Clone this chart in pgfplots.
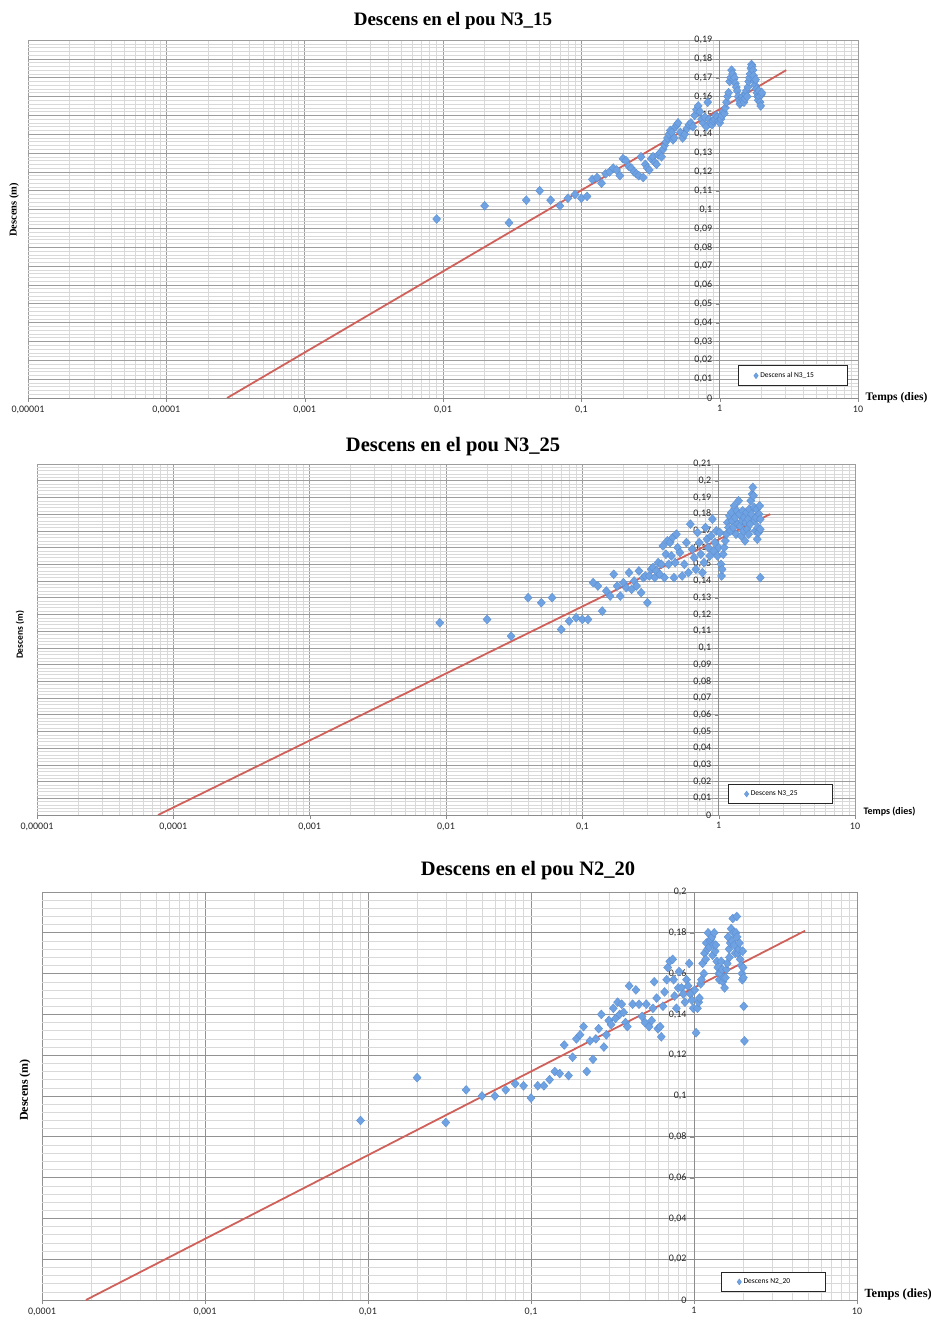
\documentclass[border=0pt]{standalone}
\usepackage{fontspec}
\setmainfont{Carlito}
\newfontfamily\tnr{Liberation Serif}
\usepackage{pgfplots}
\pgfplotsset{compat=1.18}
\definecolor{gmaj}{HTML}{8C8C8C}
\definecolor{gmin}{HTML}{D9D9D9}
\definecolor{ptfill}{HTML}{6EA2E2}
\definecolor{ptdraw}{HTML}{5A8DD0}
\definecolor{trend}{HTML}{D0605A}

\pgfplotsset{
  excel/.style={
    scale only axis,
    ymin=0,
    axis x line=bottom,
    axis y line=middle,
    axis line style={draw=gmaj,-},
    hide obscured x ticks=false,
    hide obscured y ticks=false,
    grid=both,
    major grid style={draw=gmaj!85,line width=0.6pt},
    minor grid style={draw=gmin,line width=0.5pt},
    tick align=outside,
    major tick length=4pt,
    minor tick length=0pt,
    tick style={draw=gmaj},
    tick label style={font=\fontsize{10}{11}\selectfont,text=black!85},
    yticklabel={\pgfmathprintnumber[fixed,precision=2,use comma,assume math mode=true]{\tick}},
    yticklabel style={anchor=east},
    legend cell align=left,
    legend image code/.code={
      \path[draw=none,fill=none] (0pt,-3pt) rectangle (19pt,3pt);
      \draw[mark=diamond*,mark size=3pt,mark options={fill=ptfill,draw=ptdraw,line width=0.3pt}]
        plot coordinates {(17pt,0pt)};},
    legend style={draw=black!85,fill=white,line width=0.8pt,
      font=\fontsize{7.5}{8}\selectfont,anchor=south west,inner xsep=1pt,inner ysep=4.5pt},
  },
  pts/.style={only marks,mark=diamond*,mark size=4.5pt,
    mark options={xscale=1.2,fill=ptfill,draw=ptdraw,line width=0.3pt}},
  trendline/.style={draw=trend,line width=1.8pt,no marks,forget plot},
}

\begin{document}
\begin{tikzpicture}
\useasboundingbox (0pt,0pt) rectangle (930pt,1320pt);

% ---------- Panel 1 : N3_15 ----------
\begin{semilogxaxis}[excel,
  at={(28pt,922pt)},anchor=south west,
  width=830pt,height=358pt,
  xmin=1e-5,xmax=10,ymax=0.19,
  xtick={1e-5,1e-4,1e-3,1e-2,1e-1,1,10},
  minor xtick={2e-5,3e-5,4e-5,5e-5,6e-5,7e-5,8e-5,9e-5,
    2e-4,3e-4,4e-4,5e-4,6e-4,7e-4,8e-4,9e-4,
    0.002,0.003,0.004,0.005,0.006,0.007,0.008,0.009,
    0.02,0.03,0.04,0.05,0.06,0.07,0.08,0.09,
    0.2,0.3,0.4,0.5,0.6,0.7,0.8,0.9,2,3,4,5,6,7,8,9},
  xticklabels={{0,00001},{0,0001},{0,001},{0,01},{0,1},1,10},
  ytick distance=0.01,minor y tick num=4,
  legend style={at={(0.855,0.0335)}},
]
\addplot[pts] table {
0.009 0.095
0.02 0.102
0.03 0.093
0.04 0.105
0.05 0.110
0.06 0.105
0.07 0.102
0.08 0.106
0.09 0.108
0.10 0.106
0.11 0.107
0.12 0.116
0.13 0.117
0.14 0.114
0.15 0.119
0.16 0.120
0.17 0.122
0.18 0.121
0.19 0.118
0.20 0.127
0.21 0.126
0.22 0.123
0.23 0.122
0.24 0.120
0.25 0.119
0.26 0.118
0.27 0.128
0.28 0.117
0.29 0.124
0.30 0.122
0.31 0.121
0.32 0.127
0.33 0.128
0.34 0.125
0.35 0.124
0.36 0.129
0.37 0.130
0.38 0.128
0.39 0.132
0.40 0.134
0.41 0.136
0.42 0.138
0.43 0.140
0.44 0.142
0.45 0.141
0.46 0.137
0.47 0.138
0.48 0.144
0.49 0.145
0.50 0.146
0.52 0.141
0.54 0.138
0.56 0.140
0.58 0.143
0.60 0.145
0.62 0.146
0.64 0.144
0.66 0.150
0.68 0.153
0.70 0.155
0.72 0.152
0.74 0.148
0.76 0.146
0.78 0.149
0.80 0.144
0.82 0.157
0.84 0.148
0.86 0.146
0.88 0.145
0.90 0.147
0.92 0.148
0.94 0.150
0.96 0.149
0.98 0.147
1.00 0.146
1.02 0.148
1.04 0.150
1.06 0.152
1.08 0.151
1.10 0.154
1.12 0.157
1.14 0.160
1.16 0.162
1.18 0.168
1.20 0.170
1.22 0.174
1.24 0.172
1.26 0.169
1.28 0.170
1.30 0.167
1.32 0.165
1.34 0.163
1.36 0.160
1.38 0.158
1.40 0.156
1.42 0.157
1.44 0.159
1.46 0.160
1.48 0.158
1.50 0.157
1.52 0.159
1.54 0.161
1.56 0.163
1.58 0.160
1.60 0.165
1.62 0.168
1.64 0.170
1.66 0.172
1.68 0.175
1.70 0.177
1.72 0.176
1.74 0.174
1.76 0.171
1.78 0.168
1.80 0.166
1.82 0.169
1.84 0.164
1.86 0.162
1.88 0.160
1.90 0.158
1.92 0.163
1.94 0.160
1.96 0.157
1.98 0.155
2.00 0.161
2.02 0.162
};
\addlegendentry{Descens al N3\_15\hspace*{30pt}}
\addplot[trendline] coordinates {(2.75e-4,0) (3.03,0.174)};
\end{semilogxaxis}

% ---------- Panel 2 : N3_25 ----------
\begin{semilogxaxis}[excel,
  at={(37pt,505pt)},anchor=south west,
  width=818pt,height=351pt,
  xmin=1e-5,xmax=10,ymax=0.21,
  xtick={1e-5,1e-4,1e-3,1e-2,1e-1,1,10},
  minor xtick={2e-5,3e-5,4e-5,5e-5,6e-5,7e-5,8e-5,9e-5,
    2e-4,3e-4,4e-4,5e-4,6e-4,7e-4,8e-4,9e-4,
    0.002,0.003,0.004,0.005,0.006,0.007,0.008,0.009,
    0.02,0.03,0.04,0.05,0.06,0.07,0.08,0.09,
    0.2,0.3,0.4,0.5,0.6,0.7,0.8,0.9,2,3,4,5,6,7,8,9},
  xticklabels={{0,00001},{0,0001},{0,001},{0,01},{0,1},1,10},
  ytick distance=0.01,minor y tick num=4,
  legend style={at={(0.845,0.031)}},
]
\addplot[pts] table {
0.009 0.115
0.02 0.117
0.03 0.107
0.04 0.130
0.05 0.127
0.06 0.130
0.07 0.111
0.08 0.116
0.09 0.118
0.10 0.117
0.11 0.117
0.12 0.139
0.13 0.137
0.14 0.122
0.15 0.134
0.16 0.131
0.17 0.144
0.18 0.137
0.19 0.131
0.20 0.139
0.21 0.136
0.22 0.145
0.23 0.135
0.24 0.140
0.25 0.137
0.26 0.146
0.27 0.133
0.28 0.142
0.29 0.143
0.30 0.127
0.31 0.143
0.32 0.147
0.33 0.148
0.34 0.142
0.35 0.146
0.36 0.151
0.37 0.144
0.38 0.150
0.39 0.161
0.40 0.142
0.41 0.156
0.42 0.164
0.43 0.150
0.44 0.163
0.45 0.155
0.46 0.166
0.47 0.142
0.48 0.151
0.49 0.168
0.50 0.160
0.52 0.157
0.54 0.143
0.56 0.150
0.58 0.163
0.60 0.145
0.62 0.174
0.64 0.159
0.66 0.154
0.68 0.147
0.70 0.169
0.72 0.163
0.74 0.156
0.76 0.145
0.78 0.151
0.80 0.172
0.82 0.165
0.84 0.160
0.86 0.155
0.88 0.167
0.90 0.177
0.92 0.158
0.94 0.163
0.96 0.170
0.98 0.155
1.00 0.160
1.02 0.169
1.04 0.150
1.05 0.143
1.06 0.147
1.08 0.156
1.10 0.160
1.12 0.164
1.14 0.168
1.16 0.175
1.18 0.172
1.20 0.179
1.22 0.170
1.24 0.181
1.26 0.176
1.28 0.172
1.30 0.185
1.32 0.178
1.34 0.168
1.36 0.182
1.38 0.174
1.40 0.188
1.42 0.180
1.44 0.173
1.46 0.167
1.48 0.176
1.50 0.182
1.52 0.170
1.54 0.178
1.56 0.164
1.58 0.175
1.60 0.181
1.62 0.171
1.64 0.177
1.66 0.168
1.68 0.183
1.70 0.174
1.72 0.188
1.74 0.180
1.76 0.192
1.78 0.196
1.80 0.191
1.82 0.184
1.84 0.176
1.86 0.170
1.88 0.178
1.90 0.183
1.92 0.165
1.94 0.172
1.96 0.169
1.98 0.180
2.00 0.185
2.02 0.142
2.02 0.171
2.02 0.177
};
\addlegendentry{Descens N3\_25\hspace*{32pt}}
\addplot[trendline] coordinates {(7.73e-5,0) (2.39,0.180)};
\end{semilogxaxis}

% ---------- Panel 3 : N2_20 ----------
\begin{semilogxaxis}[excel,
  at={(42pt,20pt)},anchor=south west,
  width=815pt,height=408pt,
  xmin=1e-4,xmax=10,ymax=0.2,
  xtick={1e-4,1e-3,1e-2,1e-1,1,10},
  minor xtick={2e-4,3e-4,4e-4,5e-4,6e-4,7e-4,8e-4,9e-4,
    0.002,0.003,0.004,0.005,0.006,0.007,0.008,0.009,
    0.02,0.03,0.04,0.05,0.06,0.07,0.08,0.09,
    0.2,0.3,0.4,0.5,0.6,0.7,0.8,0.9,2,3,4,5,6,7,8,9},
  xticklabels={{0,0001},{0,001},{0,01},{0,1},1,10},
  ytick distance=0.02,minor y tick num=4,
  major grid style={draw=gmaj!95,line width=0.9pt},
  legend style={at={(0.833,0.0196)}},
]
\addplot[pts] table {
0.009 0.088
0.02 0.109
0.03 0.087
0.04 0.103
0.05 0.100
0.06 0.100
0.07 0.103
0.08 0.106
0.09 0.105
0.10 0.099
0.11 0.105
0.12 0.105
0.13 0.108
0.14 0.112
0.15 0.111
0.16 0.125
0.17 0.110
0.18 0.119
0.19 0.128
0.20 0.130
0.21 0.134
0.22 0.112
0.23 0.127
0.24 0.118
0.25 0.128
0.26 0.133
0.27 0.140
0.28 0.124
0.29 0.130
0.30 0.137
0.31 0.135
0.32 0.143
0.33 0.138
0.34 0.146
0.35 0.140
0.36 0.145
0.37 0.141
0.38 0.136
0.39 0.134
0.40 0.154
0.42 0.145
0.44 0.152
0.46 0.145
0.48 0.139
0.50 0.136
0.51 0.145
0.53 0.134
0.55 0.137
0.56 0.143
0.57 0.156
0.59 0.148
0.60 0.133
0.62 0.134
0.63 0.129
0.645 0.144
0.66 0.151
0.68 0.157
0.69 0.163
0.71 0.166
0.74 0.167
0.75 0.157
0.76 0.149
0.78 0.143
0.80 0.153
0.81 0.161
0.84 0.153
0.86 0.150
0.88 0.146
0.90 0.157
0.92 0.154
0.935 0.165
0.95 0.150
0.97 0.147
0.99 0.143
1.01 0.152
1.03 0.131
1.05 0.143
1.07 0.146
1.08 0.148
1.10 0.155
1.11 0.157
1.13 0.165
1.15 0.160
1.16 0.170
1.18 0.167
1.19 0.175
1.21 0.172
1.22 0.180
1.24 0.173
1.26 0.176
1.27 0.177
1.29 0.178
1.30 0.169
1.32 0.174
1.33 0.180
1.35 0.171
1.36 0.174
1.38 0.166
1.40 0.163
1.42 0.160
1.43 0.157
1.45 0.160
1.47 0.166
1.49 0.162
1.50 0.156
1.52 0.158
1.54 0.153
1.56 0.158
1.58 0.162
1.60 0.165
1.62 0.178
1.64 0.172
1.65 0.168
1.67 0.175
1.69 0.182
1.71 0.176
1.73 0.187
1.75 0.180
1.77 0.174
1.79 0.170
1.81 0.180
1.83 0.188
1.84 0.178
1.86 0.170
1.88 0.172
1.90 0.175
1.92 0.167
1.95 0.164
1.97 0.160
1.98 0.157
1.99 0.171
2.00 0.163
2.01 0.158
2.02 0.144
2.04 0.127
};
\addlegendentry{Descens N2\_20\hspace*{32pt}}
\addplot[trendline] coordinates {(1.86e-4,0) (4.8,0.181)};
\end{semilogxaxis}

% ---------- titles and axis labels ----------
\node[font=\tnr\bfseries\fontsize{19}{20}\selectfont] at (453pt,1299pt) {Descens en el pou N3\_15};
\node[font=\tnr\bfseries\fontsize{20.5}{21}\selectfont] at (453pt,873pt) {Descens en el pou N3\_25};
\node[font=\tnr\bfseries\fontsize{20.5}{21}\selectfont] at (528pt,449pt) {Descens en el pou N2\_20};

\node[rotate=90,font=\tnr\bfseries\fontsize{10.5}{11}\selectfont] at (14pt,1110pt) {Descens (m)};
\node[rotate=90,font=\bfseries\fontsize{9.5}{10}\selectfont] at (20pt,685pt) {Descens (m)};
\node[rotate=90,font=\tnr\bfseries\fontsize{12}{13}\selectfont] at (25pt,230pt) {Descens (m)};

\node[anchor=west,font=\tnr\bfseries\fontsize{11.5}{12}\selectfont] at (862pt,922pt) {Temps (dies)};
\node[anchor=west,font=\bfseries\fontsize{10}{11}\selectfont] at (860pt,508pt) {Temps (dies)};
\node[anchor=west,font=\tnr\bfseries\fontsize{12.5}{13}\selectfont] at (861pt,26pt) {Temps (dies)};
\end{tikzpicture}
\end{document}
